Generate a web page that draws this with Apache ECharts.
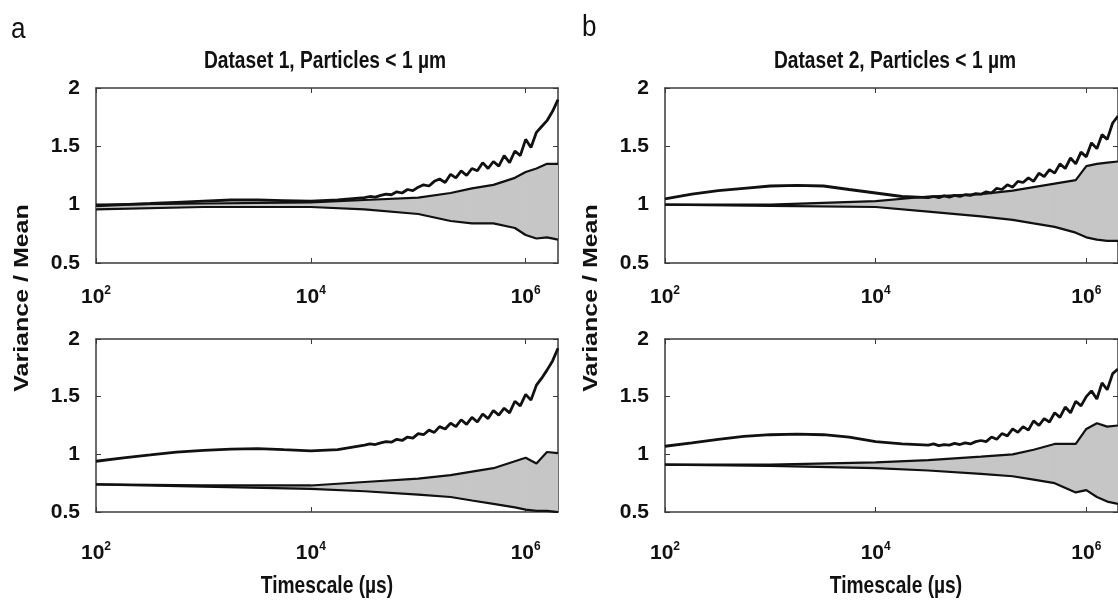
<!DOCTYPE html>
<html>
<head>
<meta charset="utf-8">
<title>Variance / Mean vs timescale</title>
<script src="https://cdn.jsdelivr.net/npm/echarts@6/dist/echarts.min.js"></script>
<style>
  html, body { margin: 0; padding: 0; background: #fff; }
  #main { width: 1118px; height: 602px; }
</style>
</head>
<body>
<div id="main"></div>
<script>
// timescales (us) for the measured ratio curves
var timeFine = [100, 180, 320, 560, 1000, 1800, 3200, 5600, 10000, 17800,
  31600, 35500, 39800, 44700, 50100, 56200, 63100, 70800, 79400, 89100,
  100000, 112000, 126000, 141000, 158000, 178000, 200000, 224000, 251000, 282000,
  316000, 355000, 398000, 447000, 501000, 562000, 631000, 708000, 794000, 891000,
  1000000, 1120000, 1260000, 1410000, 1580000, 1780000, 2000000];
// timescales (us) for the grey confidence band
var timeBand = [100, 1000, 10000, 31600, 100000, 200000, 316000, 501000, 794000, 1000000, 1260000, 1580000, 2000000];

// dataset 1
var ratioTL = [0.99, 1.00, 1.01, 1.02, 1.03, 1.04, 1.04, 1.035, 1.03, 1.04,
  1.06, 1.07, 1.065, 1.08, 1.09, 1.085, 1.11, 1.10, 1.13, 1.12,
  1.15, 1.17, 1.16, 1.20, 1.22, 1.19, 1.26, 1.23, 1.29, 1.25,
  1.31, 1.29, 1.36, 1.31, 1.37, 1.33, 1.42, 1.36, 1.46, 1.42,
  1.56, 1.49, 1.62, 1.67, 1.72, 1.80, 1.90];
var upperTL = [1.00, 1.01, 1.02, 1.04, 1.06, 1.10, 1.14, 1.17, 1.23, 1.28, 1.31, 1.35, 1.35];
var lowerTL = [0.96, 0.98, 0.98, 0.96, 0.92, 0.86, 0.84, 0.84, 0.80, 0.74, 0.71, 0.72, 0.70];

var ratioBL = [0.94, 0.97, 0.995, 1.02, 1.035, 1.045, 1.05, 1.04, 1.03, 1.04,
  1.08, 1.09, 1.085, 1.10, 1.11, 1.105, 1.13, 1.12, 1.15, 1.14,
  1.18, 1.17, 1.21, 1.19, 1.24, 1.22, 1.27, 1.24, 1.30, 1.26,
  1.32, 1.28, 1.35, 1.31, 1.38, 1.34, 1.40, 1.36, 1.46, 1.42,
  1.52, 1.47, 1.60, 1.66, 1.73, 1.81, 1.92];
var upperBL = [0.74, 0.73, 0.73, 0.76, 0.79, 0.82, 0.85, 0.88, 0.94, 0.97, 0.92, 1.02, 1.01];
var lowerBL = [0.74, 0.72, 0.70, 0.68, 0.65, 0.63, 0.60, 0.57, 0.54, 0.52, 0.51, 0.51, 0.50];

// dataset 2
var ratioTR = [1.05, 1.09, 1.12, 1.14, 1.16, 1.165, 1.16, 1.13, 1.10, 1.07,
  1.06, 1.07, 1.06, 1.075, 1.065, 1.08, 1.07, 1.085, 1.08, 1.095,
  1.09, 1.11, 1.10, 1.14, 1.13, 1.17, 1.15, 1.20, 1.19, 1.23,
  1.20, 1.27, 1.24, 1.30, 1.27, 1.35, 1.31, 1.40, 1.35, 1.45,
  1.41, 1.53, 1.48, 1.60, 1.56, 1.70, 1.76];
var upperTR = [1.00, 1.00, 1.03, 1.07, 1.09, 1.12, 1.15, 1.18, 1.21, 1.33, 1.35, 1.36, 1.37];
var lowerTR = [1.00, 0.99, 0.98, 0.94, 0.90, 0.87, 0.84, 0.81, 0.76, 0.72, 0.70, 0.69, 0.69];

var ratioBR = [1.07, 1.10, 1.13, 1.155, 1.17, 1.175, 1.17, 1.15, 1.11, 1.09,
  1.08, 1.09, 1.075, 1.085, 1.08, 1.095, 1.085, 1.10, 1.09, 1.11,
  1.12, 1.11, 1.15, 1.13, 1.18, 1.16, 1.22, 1.19, 1.24, 1.21,
  1.29, 1.25, 1.31, 1.28, 1.36, 1.32, 1.41, 1.36, 1.46, 1.42,
  1.50, 1.55, 1.48, 1.62, 1.56, 1.70, 1.74];
var upperBR = [0.91, 0.91, 0.93, 0.95, 0.98, 1.00, 1.04, 1.09, 1.09, 1.22, 1.27, 1.24, 1.25];
var lowerBR = [0.91, 0.90, 0.88, 0.86, 0.83, 0.81, 0.78, 0.75, 0.67, 0.69, 0.63, 0.59, 0.57];

var xTicks = [100, 10000, 1000000];
var titles = ['Dataset 1, Particles < 1 \u00b5m', 'Dataset 2, Particles < 1 \u00b5m'];

var FONT = '"Liberation Sans", Arial, sans-serif';
var INK = '#111';
var FRAME = '#3a3a3a';
var BAND = '#c6c6c6';

var grids = [
  { left: 96, top: 88, width: 462, height: 175 },
  { left: 96, top: 339, width: 462, height: 173 },
  { left: 665, top: 88, width: 462, height: 175 },
  { left: 665, top: 339, width: 462, height: 173 }
];
var labelGap = [22, 29, 22, 29];
var panels = [
  [ratioTL, upperTL, lowerTL],
  [ratioBL, upperBL, lowerBL],
  [ratioTR, upperTR, lowerTR],
  [ratioBR, upperBR, lowerBR]
];

function pairs(xs, ys) {
  return xs.map(function (x, i) { return [x, ys[i]]; });
}

// grey band: one quad between each pair of neighbouring band samples
function renderBand(params, api) {
  var k = params.dataIndexInside;
  if (k >= params.dataInsideLength - 1) return;
  var a = api.value(0, k), b = api.value(0, k + 1);
  var pts = [
    api.coord([a, api.value(1, k)]),
    api.coord([b, api.value(1, k + 1)]),
    api.coord([b, api.value(2, k + 1)]),
    api.coord([a, api.value(2, k)])
  ];
  return {
    type: 'polygon', shape: { points: pts },
    style: { fill: BAND, stroke: BAND, lineWidth: 1 }
  };
}

var xAxes = [], yAxes = [], series = [];
grids.forEach(function (g, i) {
  var frameLine = { show: true, lineStyle: { color: FRAME, width: 1.5 } };
  xAxes.push({
    type: 'log', logBase: 10, gridIndex: i, position: 'bottom', min: 100, max: 2000000,
    axisLine: frameLine, splitLine: { show: false },
    axisTick: { inside: true, length: 5, customValues: xTicks, lineStyle: { color: FRAME } },
    axisLabel: {
      customValues: xTicks, margin: labelGap[i],
      formatter: function (v) { return '{b|10}{s|' + Math.round(Math.log10(v)) + '}'; },
      rich: {
        b: { fontFamily: FONT, fontWeight: 'bold', fontSize: 21, lineHeight: 24, color: INK },
        s: { fontFamily: FONT, fontWeight: 'bold', fontSize: 12, lineHeight: 12, color: INK, verticalAlign: 'top' }
      }
    }
  });
  xAxes.push({
    type: 'log', logBase: 10, gridIndex: i, position: 'top', min: 100, max: 2000000,
    axisLine: frameLine, splitLine: { show: false },
    axisTick: { inside: true, length: 5, customValues: xTicks, lineStyle: { color: FRAME } },
    axisLabel: { show: false }
  });
  yAxes.push({
    type: 'value', gridIndex: i, position: 'left', min: 0.5, max: 2, interval: 0.5,
    axisLine: frameLine, splitLine: { show: false },
    axisTick: { inside: true, length: 5, lineStyle: { color: FRAME } },
    axisLabel: { margin: 16, fontFamily: FONT, fontWeight: 'bold', fontSize: 21, color: INK }
  });
  yAxes.push({
    type: 'value', gridIndex: i, position: 'right', min: 0.5, max: 2, interval: 0.5,
    axisLine: frameLine, splitLine: { show: false },
    axisTick: { inside: true, length: 5, lineStyle: { color: FRAME } },
    axisLabel: { show: false }
  });

  var p = panels[i];
  var base = { xAxisIndex: 2 * i, yAxisIndex: 2 * i, silent: true };
  series.push(Object.assign({}, base, {
    type: 'custom', renderItem: renderBand, clip: true, z: 1,
    encode: { x: 0, y: [1, 2] },
    data: timeBand.map(function (t, k) { return [t, p[1][k], p[2][k]]; })
  }));
  var line = Object.assign({}, base, { type: 'line', showSymbol: false, symbol: 'none', z: 3 });
  series.push(Object.assign({}, line, { data: pairs(timeBand, p[1]), lineStyle: { color: INK, width: 2.2 } }));
  series.push(Object.assign({}, line, { data: pairs(timeBand, p[2]), lineStyle: { color: INK, width: 2.2 } }));
  series.push(Object.assign({}, line, { data: pairs(timeFine, p[0]), lineStyle: { color: INK, width: 2.8 } }));
});

// horizontal text in the figure is condensed, so squeeze it sideways
function label(text, x, y, size, sx, sy, rot) {
  return {
    type: 'text', x: x, y: y, rotation: rot || 0, scaleX: sx, scaleY: sy, silent: true,
    style: { text: text, fill: INK, fontFamily: FONT, fontSize: size, fontWeight: 'bold', align: 'center', verticalAlign: 'middle' }
  };
}

var graphics = [
  { type: 'text', x: 11, y: 30, scaleX: 0.9, style: { text: 'a', fill: INK, fontFamily: FONT, fontSize: 29, verticalAlign: 'middle' } },
  { type: 'text', x: 582, y: 28, scaleX: 0.9, style: { text: 'b', fill: INK, fontFamily: FONT, fontSize: 29, verticalAlign: 'middle' } },
  label(titles[0], 325, 61, 24, 0.8, 1),
  label(titles[1], 895, 61, 24, 0.8, 1),
  label('Variance / Mean', 22, 298, 25, 1, 0.8, Math.PI / 2),
  label('Variance / Mean', 591, 298, 25, 1, 0.8, Math.PI / 2),
  label('Timescale (\u00b5s)', 327, 586, 24, 0.8, 1),
  label('Timescale (\u00b5s)', 896, 586, 24, 0.8, 1)
];

var chart = echarts.init(document.getElementById('main'));
chart.setOption({
  animation: false,
  backgroundColor: '#fff',
  grid: grids,
  xAxis: xAxes,
  yAxis: yAxes,
  series: series,
  graphic: graphics
});
</script>
</body>
</html>
